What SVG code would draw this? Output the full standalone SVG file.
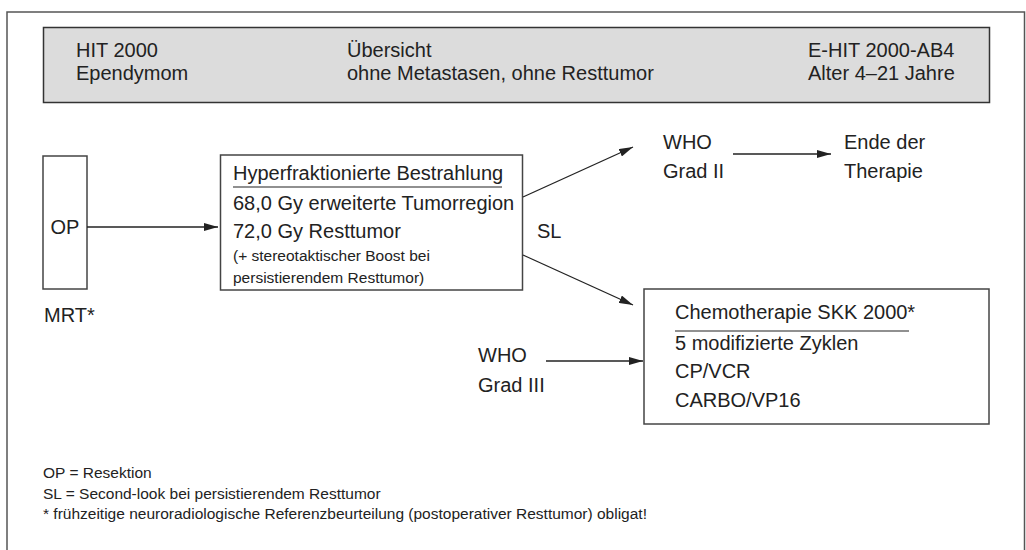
<svg xmlns="http://www.w3.org/2000/svg" width="1026" height="550" viewBox="0 0 1026 550">
<style>
text{font-family:"Liberation Sans",Arial,sans-serif;fill:#222;}
.t{font-size:20px;}
.s{font-size:15.5px;}
.f{font-size:15.5px;}
.box{fill:#fff;stroke:#444;stroke-width:1.5;}
.ln{stroke:#222;stroke-width:1.3;fill:none;marker-end:url(#ah);}
.ul{stroke:#222;stroke-width:1.2;}
</style>
<defs>
<marker id="ah" viewBox="0 0 14 8" refX="14" refY="4" markerWidth="14" markerHeight="8" markerUnits="userSpaceOnUse" orient="auto">
<path d="M0,0 L14,4 L0,8 Z" fill="#222"/>
</marker>
</defs>
<rect x="7" y="12" width="1017.5" height="560" fill="#fff" stroke="#555" stroke-width="1.5"/>
<g id="header">
<rect x="43.5" y="27.5" width="946" height="75" fill="#dcdcdc" stroke="#333" stroke-width="1.5"/>
<text class="t" x="76" y="57">HIT 2000</text>
<text class="t" x="76" y="80">Ependymom</text>
<text class="t" x="347" y="57">Übersicht</text>
<text class="t" x="347" y="80">ohne Metastasen, ohne Resttumor</text>
<text class="t" x="808" y="57">E-HIT 2000-AB4</text>
<text class="t" x="808" y="80">Alter 4–21 Jahre</text>
</g>
<g id="op">
<rect class="box" x="43" y="156" width="44" height="133"/>
<text class="t" x="65" y="234" text-anchor="middle">OP</text>
<text class="t" x="44" y="322">MRT*</text>
</g>
<g id="bestrahlung">
<rect class="box" x="220.5" y="155" width="302" height="135"/>
<text class="t" x="233" y="180">Hyperfraktionierte Bestrahlung</text>
<line class="ul" x1="233" y1="187" x2="502" y2="187"/>
<text class="t" x="233" y="210">68,0 Gy erweiterte Tumorregion</text>
<text class="t" x="233" y="238">72,0 Gy Resttumor</text>
<text class="s" x="233" y="261">(+ stereotaktischer Boost bei</text>
<text class="s" x="233" y="283">persistierendem Resttumor)</text>
</g>
<g id="sl">
<text class="t" x="537" y="238">SL</text>
</g>
<g id="grad2">
<text class="t" x="663" y="149">WHO</text>
<text class="t" x="663" y="178">Grad II</text>
</g>
<g id="ende">
<text class="t" x="844" y="149">Ende der</text>
<text class="t" x="844" y="178">Therapie</text>
</g>
<g id="chemo">
<rect class="box" x="644" y="289" width="345" height="135"/>
<text class="t" x="675" y="319">Chemotherapie SKK 2000*</text>
<line class="ul" x1="675" y1="331" x2="909" y2="331"/>
<text class="t" x="675" y="350">5 modifizierte Zyklen</text>
<text class="t" x="675" y="378">CP/VCR</text>
<text class="t" x="675" y="407">CARBO/VP16</text>
</g>
<g id="grad3">
<text class="t" x="478" y="362">WHO</text>
<text class="t" x="478" y="392">Grad III</text>
</g>
<g id="connectors">
<line class="ln" x1="87" y1="227" x2="218" y2="227"/>
<line class="ln" x1="523" y1="197" x2="633" y2="147"/>
<line class="ln" x1="523" y1="255" x2="633" y2="305"/>
<line class="ln" x1="733" y1="154" x2="831" y2="154"/>
<line class="ln" x1="546" y1="361" x2="643" y2="361"/>
</g>
<g id="legend">
<text class="f" x="43" y="478">OP = Resektion</text>
<text class="f" x="43" y="499">SL = Second-look bei persistierendem Resttumor</text>
<text class="f" x="43" y="519">* frühzeitige neuroradiologische Referenzbeurteilung (postoperativer Resttumor) obligat!</text>
</g>
</svg>
